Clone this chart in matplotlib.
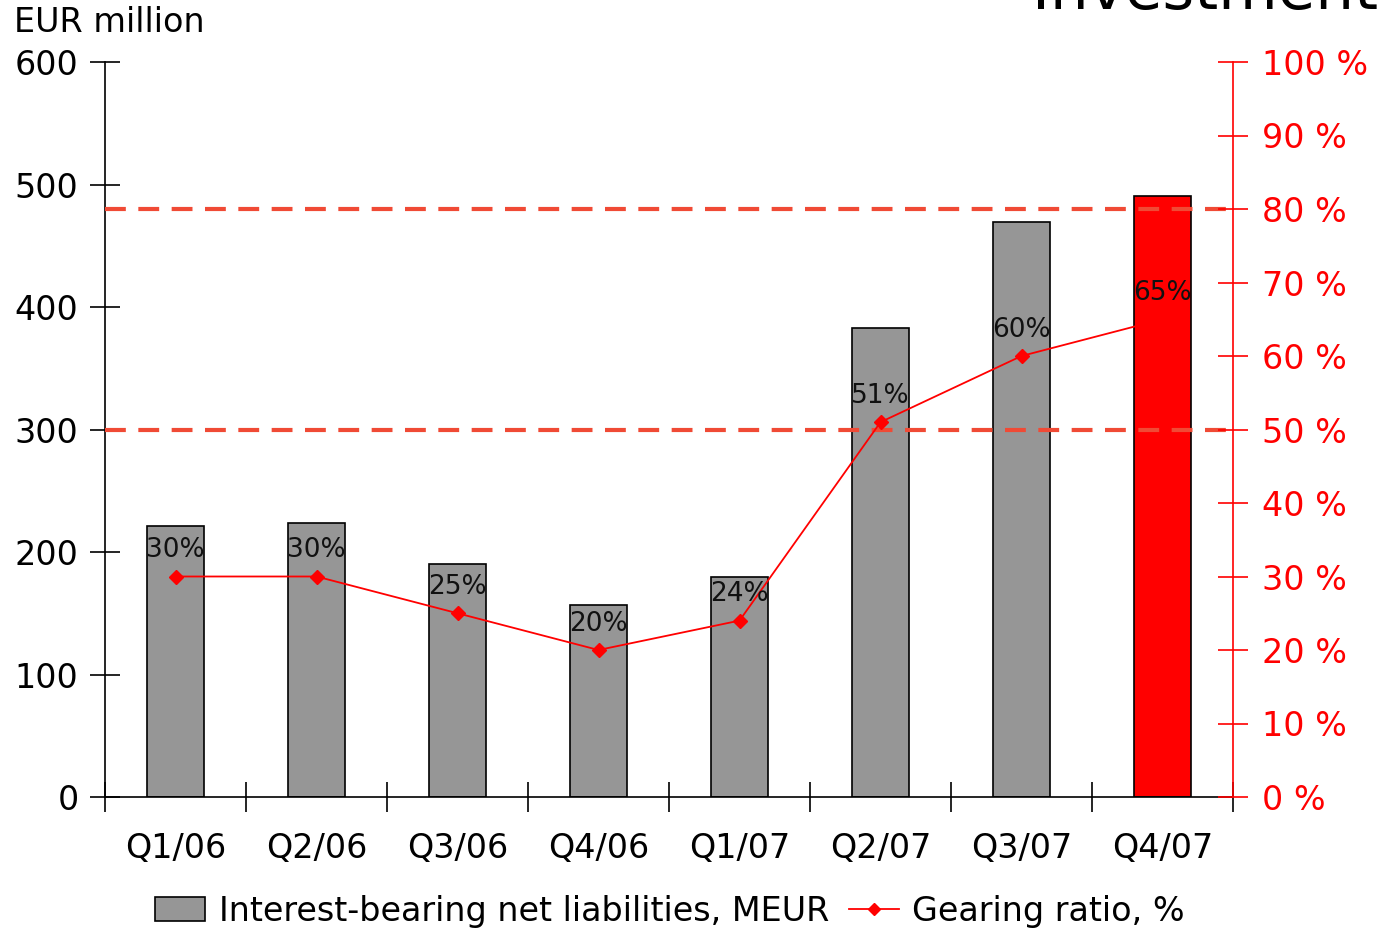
import matplotlib.pyplot as plt
from matplotlib.patches import Patch
from matplotlib.lines import Line2D

quarters = ['Q1/06', 'Q2/06', 'Q3/06', 'Q4/06', 'Q1/07', 'Q2/07', 'Q3/07', 'Q4/07']
liabilities = [221, 224, 190, 157, 180, 383, 469, 491]
gearing = [30, 30, 25, 20, 24, 51, 60, 65]
bar_colors = ['#969696'] * 7 + ['#ff0000']
limit_lines = [80, 50]

plt.rcParams['font.family'] = 'DejaVu Sans'
fs = 24

fig = plt.figure(figsize=(13.8, 9.33), dpi=100)
ax = fig.add_axes([105 / 1380, 1 - 797 / 933, (1233 - 105) / 1380, (797 - 62) / 933])
ax2 = ax.twinx()

x = list(range(len(quarters)))
ax.bar(x, liabilities, width=0.4, color=bar_colors, edgecolor='black', linewidth=1.2, zorder=2)
ax.set_xlim(-0.5, len(quarters) - 0.5)
ax.set_ylim(0, 600)
ax.set_yticks(range(0, 601, 100))
ax.tick_params(axis='y', direction='inout', length=22, width=1.2, labelsize=fs, pad=8)

# category ticks sit between the bars
ax.set_xticks([i + 0.5 for i in x[:-1]] + [-0.5, len(quarters) - 0.5])
ax.set_xticklabels([])
ax.set_xticks(x, minor=True)
ax.set_xticklabels(quarters, minor=True)
ax.tick_params(axis='x', which='major', direction='inout', length=22, width=1.2)
ax.tick_params(axis='x', which='minor', length=0, labelsize=fs, pad=25)

ax.spines['top'].set_visible(False)
ax.spines['right'].set_visible(False)
for s in ['left', 'bottom']:
    ax.spines[s].set_linewidth(1.2)

ax2.set_ylim(0, 100)
ax2.set_yticks(range(0, 101, 10))
ax2.set_yticklabels([f'{v} %' for v in range(0, 101, 10)])
ax2.tick_params(axis='y', direction='inout', length=22, width=1.2, colors='#ff0000',
                labelsize=fs, pad=10)
for s in ['top', 'left', 'bottom']:
    ax2.spines[s].set_visible(False)
ax2.spines['right'].set_color('#ff0000')
ax2.spines['right'].set_linewidth(1.2)

for lv in limit_lines:
    ax2.axhline(lv, color='#f04a35', linestyle=(0, (5, 3)), linewidth=3, zorder=1)

ax2.plot(x, gearing, color='#ff0000', linewidth=1.3, marker='D', markersize=7, zorder=3)
for xi, g in zip(x, gearing):
    ax2.annotate(f'{g}%', (xi, g), xytext=(0, 19), textcoords='offset points',
                 ha='center', va='center', fontsize=19, color='#111111')

fig.text(14 / 1380, 1 - 22 / 933, 'EUR million', fontsize=fs, va='center', ha='left')
fig.text(1378 / 1380, 1 - 9 / 933, 'Investment', fontsize=44, va='baseline', ha='right')

handles = [Patch(facecolor='#969696', edgecolor='black', linewidth=1.2),
           Line2D([0], [0], color='#ff0000', marker='D', markersize=6, linewidth=1.3)]
fig.legend(handles, ['Interest-bearing net liabilities, MEUR', 'Gearing ratio, %'],
           loc='center', bbox_to_anchor=(670 / 1380, 1 - 911 / 933), ncol=2,
           frameon=False, fontsize=fs, handlelength=1.5, columnspacing=0.6,
           handletextpad=0.4)

fig.savefig('out.png', dpi=100)
